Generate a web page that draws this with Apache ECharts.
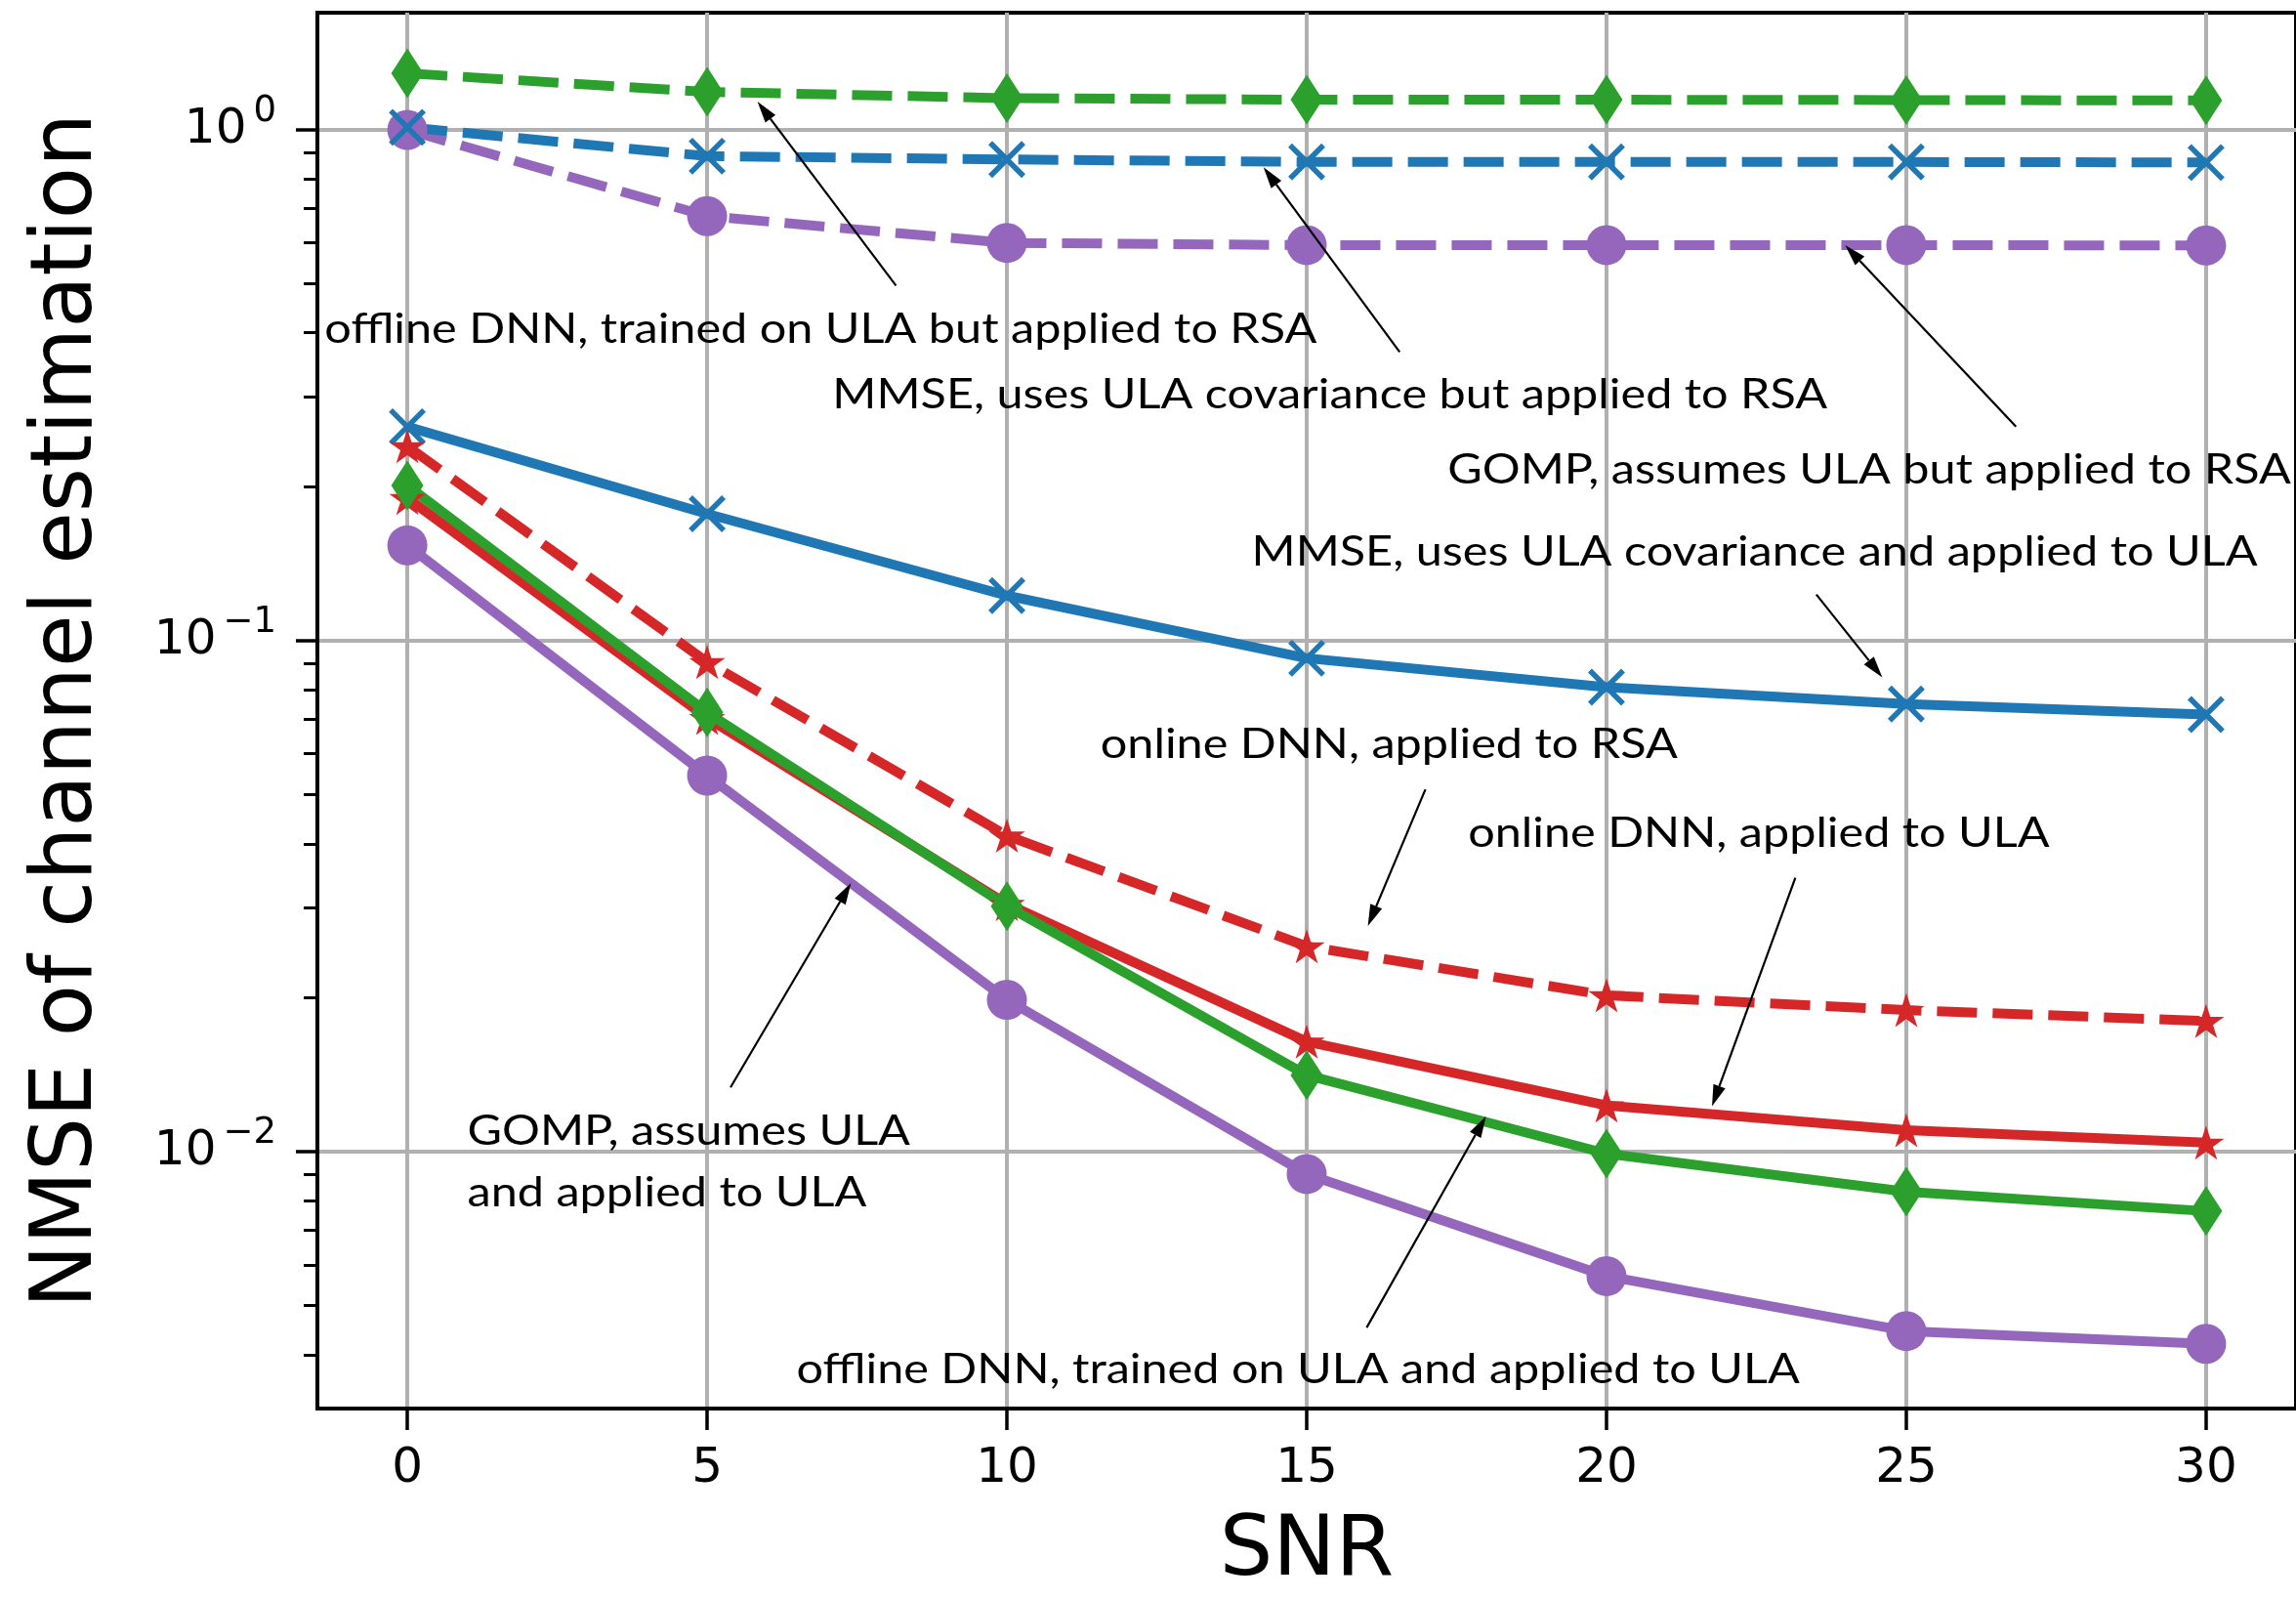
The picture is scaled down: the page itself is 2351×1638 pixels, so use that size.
<!DOCTYPE html>
<html>
<head>
<meta charset="utf-8">
<script src="https://cdn.jsdelivr.net/npm/echarts@6/dist/echarts.min.js"></script>
<style>
  html, body { margin: 0; padding: 0; background: #ffffff; }
  #chart { width: 2351px; height: 1638px; }
</style>
</head>
<body>
<div id="chart"></div>
<script>
// SNR sweep (x axis)
const snr = [0, 5, 10, 15, 20, 25, 30];

// NMSE per method, one value per SNR point
const mmseUla      = [0.262, 0.177, 0.1224, 0.0923, 0.081, 0.0751, 0.0716];
const mmseRsa      = [1.01, 0.887, 0.874, 0.864, 0.864, 0.864, 0.862];
const gompUla      = [0.1535, 0.0544, 0.0198, 0.00903, 0.0057, 0.00445, 0.0042];
const gompRsa      = [0.998, 0.677, 0.600, 0.594, 0.594, 0.594, 0.593];
const onlineUla    = [0.190, 0.0705, 0.0305, 0.0164, 0.0123, 0.0110, 0.0104];
const onlineRsa    = [0.240, 0.0907, 0.0415, 0.0252, 0.0202, 0.0189, 0.0180];
const offlineUla   = [0.201, 0.0723, 0.0302, 0.0141, 0.0099, 0.00834, 0.00764];
const offlineRsa   = [1.288, 1.185, 1.152, 1.144, 1.144, 1.142, 1.140];

// Tick values
const xTicks = [0, 5, 10, 15, 20, 25, 30];
const yMajorTicks = [0.01, 0.1, 1];
const yMinorTicks = [0.004, 0.005, 0.006, 0.007, 0.008, 0.009,
                     0.02, 0.03, 0.04, 0.05, 0.06, 0.07, 0.08, 0.09,
                     0.2, 0.3, 0.4, 0.5, 0.6, 0.7, 0.8, 0.9];

// Callout labels, anchored in data coordinates (left edge, vertical middle)
const noteTexts = [
  'offline DNN, trained on ULA but applied to RSA',
  'MMSE, uses ULA covariance but applied to RSA',
  'GOMP, assumes ULA but applied to RSA',
  'MMSE, uses ULA covariance and applied to ULA',
  'online DNN, applied to RSA',
  'online DNN, applied to ULA',
  'GOMP, assumes ULA',
  'and applied to ULA',
  'offline DNN, trained on ULA and applied to ULA'
];
const noteAnchors = [
  [-1.38, 0.406], [7.09, 0.303], [17.35, 0.216], [14.08, 0.149],
  [11.56, 0.0625], [17.69, 0.0419], [1.0, 0.01095], [1.0, 0.00831], [6.49, 0.00374]
];
// Arrows: tail -> head, in data coordinates
const arrowTails = [
  [8.15, 0.495], [16.55, 0.367], [26.83, 0.262], [23.5, 0.123],
  [16.98, 0.0511], [23.15, 0.0343], [5.39, 0.01334], [16.0, 0.00452]
];
const arrowHeads = [
  [5.84, 1.134], [14.28, 0.844], [23.98, 0.594], [24.6, 0.0847],
  [16.02, 0.0276], [21.76, 0.01225], [7.40, 0.0335], [17.99, 0.01172]
];

const C_BLUE = '#1f77b4', C_GREEN = '#2ca02c', C_RED = '#d62728', C_PURPLE = '#9467bd';
const STAR = 'path://M0,-100L22.45,-30.9L95.11,-30.9L36.33,11.8L58.78,80.9L0,38.2L-58.78,80.9L-36.33,11.8L-95.11,-30.9L-22.45,-30.9Z';
const CROSS = 'path://M-50,-50L50,50M50,-50L-50,50';
const DASH = [41, 16];
const LW = 10;

function pairs(vals) { return snr.map((s, i) => [s, vals[i]]); }

function lineSeries(name, vals, color, dashed, marker) {
  const s = {
    name: name,
    type: 'line',
    data: pairs(vals),
    xAxisIndex: 0,
    yAxisIndex: 0,
    lineStyle: { color: color, width: LW, type: dashed ? DASH : 'solid', cap: 'butt' },
    itemStyle: { color: color, borderWidth: 0 },
    showSymbol: true,
    showAllSymbol: true,
    emphasis: { disabled: true },
    clip: false
  };
  if (marker === 'circle') { s.symbol = 'circle'; s.symbolSize = 41; }
  if (marker === 'diamond') { s.symbol = 'diamond'; s.symbolSize = [33, 51]; }
  if (marker === 'star') { s.symbol = STAR; s.symbolSize = [37, 35]; }
  if (marker === 'cross') {
    s.symbol = CROSS; s.symbolSize = 34;
    s.itemStyle = { color: color, borderColor: color, borderWidth: 5.5 };
  }
  return s;
}

const tickFont = 'DejaVu Sans';

const chart = echarts.init(document.getElementById('chart'), null, { renderer: 'canvas' });

chart.setOption({
  animation: false,
  backgroundColor: '#ffffff',
  grid: {
    left: 325, top: 13, width: 2030, height: 1434,
    show: true, borderColor: '#000000', borderWidth: 4, backgroundColor: '#ffffff'
  },
  xAxis: [{
    type: 'value',
    min: -1.5, max: 31.5,
    name: 'SNR',
    nameLocation: 'middle',
    nameGap: 105,
    nameTextStyle: { fontFamily: tickFont, fontSize: 86, color: '#000000' },
    axisLine: { show: true, onZero: false, lineStyle: { color: '#000000', width: 4 } },
    axisTick: { show: true, length: 22, customValues: xTicks, lineStyle: { color: '#000000', width: 3.5 } },
    axisLabel: { show: true, customValues: xTicks, margin: 37, fontFamily: tickFont, fontSize: 50, color: '#000000' },
    splitLine: { show: true, lineStyle: { color: '#b0b0b0', width: 4 } }
  }],
  yAxis: [{
    type: 'log',
    logBase: 10,
    position: 'left',
    min: 0.003138, max: 1.693,
    name: 'NMSE of channel estimation',
    nameLocation: 'middle',
    nameGap: 211,
    nameRotate: 90,
    nameTextStyle: { fontFamily: tickFont, fontSize: 87, color: '#000000' },
    axisLine: { show: true, onZero: false, lineStyle: { color: '#000000', width: 4 } },
    axisTick: { show: true, length: 22, customValues: yMajorTicks, lineStyle: { color: '#000000', width: 3.5 } },
    axisLabel: {
      show: true,
      customValues: yMajorTicks,
      margin: 42,
      color: '#000000',
      formatter: function (v) {
        const e = Math.round(Math.log10(v));
        const exp = e < 0 ? '\u2212' + (-e) : String(e);
        return '{b|10}{s|' + exp + '}';
      },
      rich: {
        b: { fontFamily: tickFont, fontSize: 50, lineHeight: 50, color: '#000000' },
        s: { fontFamily: tickFont, fontSize: 37, lineHeight: 37, color: '#000000', padding: [0, 0, 36, 7] }
      }
    },
    splitLine: { show: true, lineStyle: { color: '#b0b0b0', width: 4 } }
  }, {
    // minor ticks of the log axis
    type: 'log',
    logBase: 10,
    position: 'left',
    min: 0.003138, max: 1.693,
    axisLine: { show: false, onZero: false },
    axisTick: { show: true, length: 14, customValues: yMinorTicks, lineStyle: { color: '#000000', width: 3 } },
    axisLabel: { show: false },
    splitLine: { show: false }
  }],
  series: [
    lineSeries('GOMP, assumes ULA but applied to RSA', gompRsa, C_PURPLE, true, 'circle'),
    lineSeries('MMSE, uses ULA covariance but applied to RSA', mmseRsa, C_BLUE, true, 'cross'),
    lineSeries('offline DNN, trained on ULA but applied to RSA', offlineRsa, C_GREEN, true, 'diamond'),
    lineSeries('MMSE, uses ULA covariance and applied to ULA', mmseUla, C_BLUE, false, 'cross'),
    lineSeries('online DNN, applied to RSA', onlineRsa, C_RED, true, 'star'),
    lineSeries('online DNN, applied to ULA', onlineUla, C_RED, false, 'star'),
    lineSeries('offline DNN, trained on ULA and applied to ULA', offlineUla, C_GREEN, false, 'diamond'),
    lineSeries('GOMP, assumes ULA and applied to ULA', gompUla, C_PURPLE, false, 'circle')
  ]
});

// Callouts: text and arrows placed through the chart's own coordinate conversion
function toPx(p) { return chart.convertToPixel({ xAxisIndex: 0, yAxisIndex: 0 }, p); }

const graphics = [];
noteTexts.forEach(function (t, i) {
  const p = toPx(noteAnchors[i]);
  graphics.push({
    type: 'text', x: p[0], y: p[1], z: 100, scaleX: 1.13,
    style: { text: t, fontFamily: 'Lato', fontSize: 43, fill: '#000000', align: 'left', verticalAlign: 'middle' }
  });
});
const HEAD_LEN = 22, HEAD_W = 13;
arrowTails.forEach(function (tail, i) {
  const a = toPx(tail), b = toPx(arrowHeads[i]);
  const dx = b[0] - a[0], dy = b[1] - a[1];
  const len = Math.sqrt(dx * dx + dy * dy);
  const ux = dx / len, uy = dy / len;
  const bx = b[0] - ux * HEAD_LEN, by = b[1] - uy * HEAD_LEN;
  graphics.push({
    type: 'line', z: 100,
    shape: { x1: a[0], y1: a[1], x2: bx, y2: by },
    style: { stroke: '#000000', lineWidth: 2.2 }
  });
  graphics.push({
    type: 'polygon', z: 100,
    shape: { points: [[b[0], b[1]], [bx - uy * HEAD_W / 2, by + ux * HEAD_W / 2], [bx + uy * HEAD_W / 2, by - ux * HEAD_W / 2]] },
    style: { fill: '#000000' }
  });
});
chart.setOption({ graphic: graphics });
</script>
</body>
</html>
